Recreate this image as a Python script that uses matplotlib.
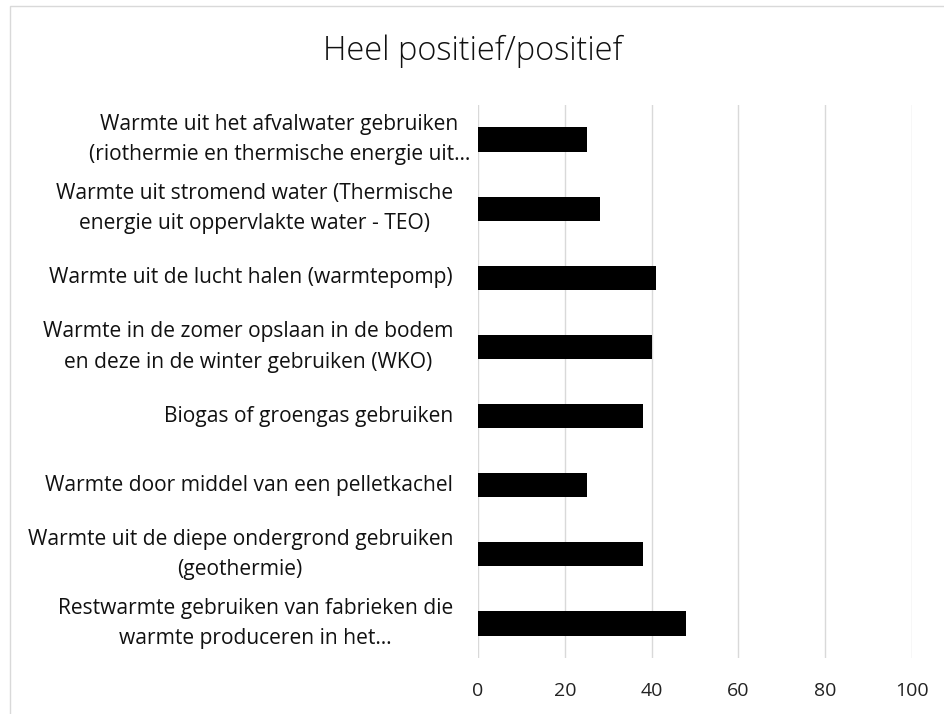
import matplotlib
matplotlib.use("Agg")
import matplotlib.pyplot as plt
import matplotlib.transforms as mtransforms
from matplotlib.patches import Rectangle
import numpy as np

categories = [
    "Warmte uit het afvalwater gebruiken\n(riothermie en thermische energie uit…",
    "Warmte uit stromend water (Thermische\nenergie uit oppervlakte water - TEO)",
    "Warmte uit de lucht halen (warmtepomp)",
    "Warmte in de zomer opslaan in de bodem\nen deze in de winter gebruiken (WKO)",
    "Biogas of groengas gebruiken",
    "Warmte door middel van een pelletkachel",
    "Warmte uit de diepe ondergrond gebruiken\n(geothermie)",
    "Restwarmte gebruiken van fabrieken die\nwarmte produceren in het…",
]
values = [25, 28, 41, 40, 38, 25, 38, 48]
xticks = [0, 20, 40, 60, 80, 100]
title = "Heel positief/positief"

W, H = 944, 714
fig = plt.figure(figsize=(W / 100, H / 100), dpi=100)
fig.patch.set_facecolor("white")

# outer chart border (partially cropped in the reference)
fig.patches.append(Rectangle((10 / W, -0.1), 1.2, 1 - 6 / H + 0.1, transform=fig.transFigure,
                             fill=False, edgecolor="#d9d9d9", linewidth=1.0))

ax = fig.add_axes([478 / W, 1 - 658 / H, (912 - 478) / W, (658 - 105) / H])
y = np.arange(len(categories))
ax.barh(y, values, height=0.35, color="black", zorder=3)
ax.set_xlim(0, 100)
ax.set_ylim(len(categories) - 0.5, -0.5)
ax.set_xticks(xticks)
ax.set_xticklabels([str(t) for t in xticks], fontsize=14, family="Open Sans", color="#222222")
ax.tick_params(axis="x", length=0, pad=17)
ax.set_yticks([])
ax.grid(axis="x", color="#d9d9d9", linewidth=1.0, zorder=0)
for s in ax.spines.values():
    s.set_visible(False)

pads = [8, 25, 25, 25, 25, 25, 25, 25]
for yi, lab, p in zip(y, categories, pads):
    tr = ax.get_yaxis_transform() + mtransforms.ScaledTranslation(-p / 100, 0, fig.dpi_scale_trans)
    ax.text(0, yi, lab, transform=tr, ha="right", va="center", multialignment="center",
            fontsize=15.1, family="Open Sans", color="#111111", linespacing=1.6)

fig.text(473 / W, 1 - 51 / H, title, ha="center", va="center", fontsize=23.5,
         family="Open Sans", fontweight="light", color="#111111")

fig.savefig("out.png", dpi=100, facecolor="white")
